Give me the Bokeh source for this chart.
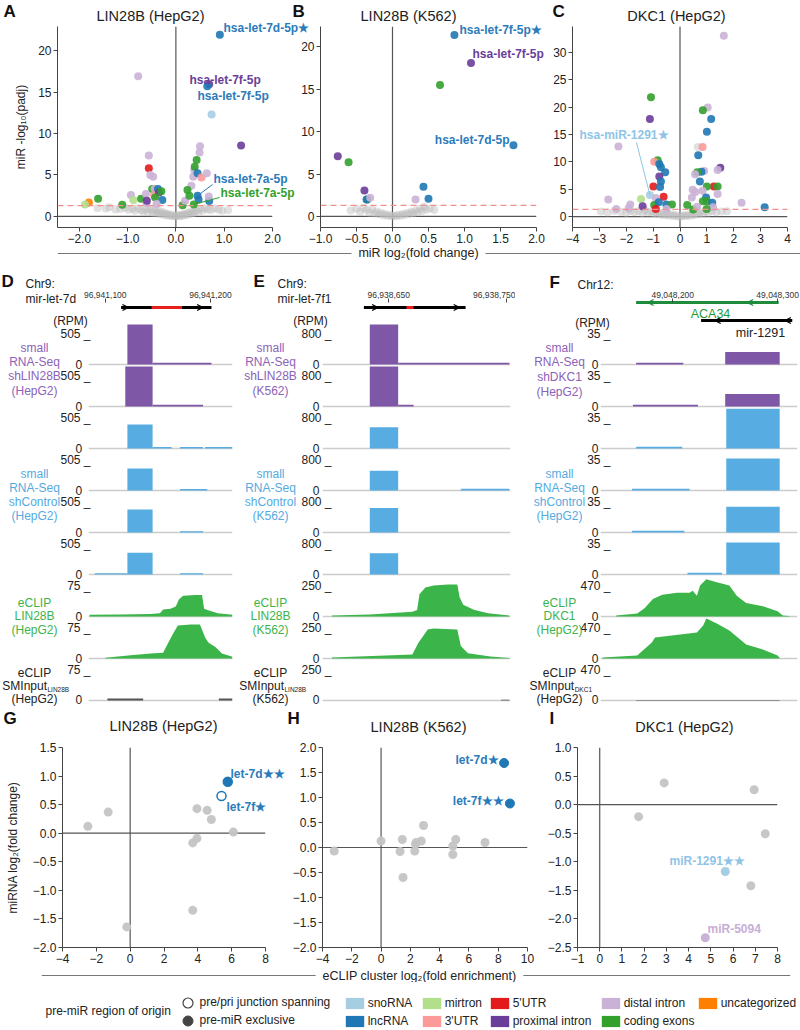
from bokeh.plotting import figure
from bokeh.models import (Range1d, Span, Label, FixedTicker, CustomJSTickFormatter,
                          NumeralTickFormatter, Legend, LegendItem, Arrow, OpenHead)
from bokeh.layouts import row, column
from bokeh.embed import file_html
from bokeh.resources import INLINE

FONT = "Liberation Sans"
NAN = float("nan")

# ------------------------------------------------------------------ DATA
CATEGORIES = ["snoRNA", "lncRNA", "mirtron", "3'UTR", "5'UTR",
              "proximal intron", "distal intron", "coding exons", "uncategorized"]
CAT_COLORS = ["#a6cee3", "#1f78b4", "#b2df8a", "#fb9a99", "#e31a1c",
              "#6a3d9a", "#cab2d6", "#33a02c", "#ff7f00"]
CMAP = dict(zip(CATEGORIES, CAT_COLORS))
PADJ_CUTOFF = 1.301

A_XTICKS = [-2.0, -1.0, 0.0, 1.0, 2.0]
A_YTICKS = [0, 5, 10, 15, 20]
A_GRAY = [(-1.62, 1.0), (-1.45, 0.95), (-1.38, 1.1), (-1.25, 0.85), (-1.15, 0.9), (-1.05, 1.05),
          (-0.98, 0.8), (-0.9, 0.95), (-0.85, 0.7), (-0.78, 1.0), (-0.72, 0.75), (-0.68, 0.6),
          (-0.62, 0.85), (-0.58, 0.5), (-0.55, 0.95), (-0.5, 0.7), (-0.47, 0.45), (-0.43, 0.8),
          (-0.4, 0.55), (-0.37, 0.35), (-0.34, 0.65), (-0.31, 0.3), (-0.28, 0.5), (-0.25, 0.2),
          (-0.22, 0.4), (-0.19, 0.15), (-0.16, 0.3), (-0.13, 0.1), (-0.1, 0.2), (-0.07, 0.05),
          (-0.04, 0.12), (-0.01, 0.02), (0.02, 0.06), (0.05, 0.15), (0.08, 0.04), (0.11, 0.22),
          (0.14, 0.1), (0.17, 0.3), (0.2, 0.18), (0.23, 0.4), (0.26, 0.25), (0.29, 0.5),
          (0.32, 0.35), (0.35, 0.6), (0.38, 0.45), (0.42, 0.75), (0.46, 0.55), (0.5, 0.9),
          (0.55, 0.7), (0.6, 1.0), (0.66, 0.85), (0.72, 0.75), (0.8, 0.95), (0.88, 0.8),
          (0.96, 0.7), (1.08, 0.75)]
A_POINTS = [(0.91, 21.9, "lncRNA"), (0.69, 15.95, "proximal intron"), (0.65, 15.7, "lncRNA"),
            (0.74, 12.3, "snoRNA"), (1.35, 8.55, "proximal intron"), (-0.78, 16.9, "distal intron"),
            (-0.56, 7.35, "distal intron"), (-0.56, 5.8, "5'UTR"), (-0.53, 5.0, "distal intron"),
            (-0.47, 4.8, "distal intron"), (-0.49, 3.3, "coding exons"), (-0.44, 3.35, "distal intron"),
            (-0.45, 2.6, "3'UTR"), (-0.37, 3.3, "lncRNA"), (-0.35, 2.9, "proximal intron"),
            (-0.30, 3.05, "coding exons"), (-0.43, 2.3, "coding exons"), (-0.28, 2.0, "lncRNA"),
            (-0.40, 1.5, "distal intron"), (-1.80, 1.69, "uncategorized"), (-1.88, 1.45, "mirtron"),
            (-1.61, 2.13, "coding exons"), (-1.11, 1.4, "coding exons"), (-0.93, 2.6, "distal intron"),
            (-0.88, 2.0, "mirtron"), (-0.72, 2.13, "coding exons"), (-0.62, 2.7, "distal intron"),
            (-0.61, 1.6, "distal intron"), (-0.60, 1.9, "proximal intron"), (0.14, 1.35, "coding exons"),
            (0.19, 1.9, "distal intron"), (0.32, 3.7, "distal intron"), (0.28, 2.5, "coding exons"),
            (0.24, 3.2, "coding exons"), (0.36, 4.8, "distal intron"), (0.38, 5.6, "distal intron"),
            (0.39, 6.0, "coding exons"), (0.43, 6.8, "coding exons"), (0.50, 8.45, "distal intron"),
            (0.49, 7.7, "distal intron"), (0.45, 5.2, "lncRNA"), (0.53, 4.7, "3'UTR"),
            (0.64, 5.2, "distal intron"), (0.45, 2.5, "lncRNA"), (0.47, 2.05, "lncRNA"),
            (0.37, 1.45, "coding exons"), (0.69, 1.85, "lncRNA"), (0.68, 2.4, "distal intron")]

B_XTICKS = [-1.0, -0.5, 0.0, 0.5, 1.0, 1.5, 2.0]
B_YTICKS = [0, 5, 10, 15, 20]
B_GRAY = [(-0.58, 0.7), (-0.5, 0.9), (-0.45, 0.55), (-0.4, 1.0), (-0.36, 0.75), (-0.32, 0.45),
          (-0.28, 0.85), (-0.25, 0.35), (-0.22, 0.6), (-0.19, 0.25), (-0.16, 0.45), (-0.13, 0.15),
          (-0.1, 0.3), (-0.07, 0.08), (-0.04, 0.18), (-0.01, 0.03), (0.02, 0.1), (0.05, 0.04),
          (0.08, 0.2), (0.11, 0.1), (0.14, 0.3), (0.17, 0.18), (0.2, 0.42), (0.23, 0.28),
          (0.26, 0.55), (0.29, 0.38), (0.32, 0.7), (0.35, 0.5), (0.38, 0.9), (0.41, 0.65),
          (0.44, 1.15), (0.47, 0.8), (0.52, 0.95), (0.58, 0.75)]
B_POINTS = [(0.86, 21.4, "lncRNA"), (1.09, 18.1, "proximal intron"), (0.66, 15.5, "coding exons"),
            (1.68, 8.4, "lncRNA"), (-0.76, 7.1, "proximal intron"), (-0.61, 6.4, "coding exons"),
            (-0.39, 3.07, "proximal intron"), (-0.35, 2.0, "coding exons"), (-0.36, 2.0, "lncRNA"),
            (-0.31, 2.2, "distal intron"), (0.43, 3.5, "lncRNA"), (0.50, 2.1, "lncRNA"),
            (0.32, 2.0, "distal intron")]

C_XTICKS = [-4, -3, -2, -1, 0, 1, 2, 3, 4]
C_YTICKS = [0, 5, 10, 15, 20, 25, 30]
C_GRAY = [(-2.95, 0.9), (-2.7, 0.75), (-2.45, 1.0), (-2.2, 0.85), (-2.0, 0.7), (-1.85, 1.05),
          (-1.7, 0.8), (-1.55, 0.95), (-1.4, 0.65), (-1.3, 1.1), (-1.2, 0.75), (-1.1, 0.9),
          (-1.0, 0.55), (-0.92, 0.8), (-0.85, 0.45), (-0.78, 0.7), (-0.7, 0.35), (-0.62, 0.6),
          (-0.55, 0.25), (-0.48, 0.5), (-0.4, 0.2), (-0.33, 0.4), (-0.25, 0.12), (-0.18, 0.3),
          (-0.1, 0.05), (0.0, 0.02), (0.08, 0.1), (0.15, 0.25), (0.22, 0.08), (0.3, 0.35),
          (0.38, 0.15), (0.45, 0.5), (0.52, 0.3), (0.6, 0.65), (0.68, 0.4), (0.75, 0.8),
          (0.85, 0.55), (0.95, 0.9), (1.05, 0.7), (1.2, 1.0), (1.35, 0.8), (1.55, 0.9),
          (1.75, 0.95), (0.66, 12.7)]
C_POINTS = [(1.63, 33.0, "distal intron"), (-1.08, 21.8, "coding exons"), (-1.12, 17.8, "proximal intron"),
            (-2.29, 12.8, "distal intron"), (-1.12, 3.95, "snoRNA"), (-2.67, 3.1, "distal intron"),
            (-2.37, 1.4, "distal intron"), (-1.85, 2.2, "distal intron"), (-1.91, 1.5, "distal intron"),
            (-1.45, 3.2, "mirtron"), (-1.39, 1.9, "proximal intron"), (-0.83, 10.3, "coding exons"),
            (-0.96, 10.0, "3'UTR"), (-0.77, 9.6, "lncRNA"), (-0.71, 9.0, "lncRNA"),
            (-0.55, 8.1, "lncRNA"), (-0.77, 7.3, "proximal intron"), (-0.71, 6.4, "lncRNA"),
            (-0.99, 5.5, "5'UTR"), (-0.74, 5.4, "lncRNA"), (-0.61, 3.6, "5'UTR"),
            (-0.9, 3.4, "distal intron"), (-0.96, 2.1, "coding exons"), (-0.79, 2.6, "lncRNA"),
            (-0.51, 2.2, "lncRNA"), (-0.3, 2.2, "coding exons"), (-0.9, 1.4, "5'UTR"),
            (-0.5, 1.4, "distal intron"), (1.03, 19.9, "distal intron"), (0.85, 19.4, "coding exons"),
            (1.16, 17.8, "lncRNA"), (1.0, 15.5, "lncRNA"), (0.84, 12.7, "3'UTR"),
            (0.68, 11.2, "lncRNA"), (1.5, 8.9, "proximal intron"), (1.4, 8.5, "distal intron"),
            (0.9, 8.3, "distal intron"), (0.8, 8.2, "lncRNA"), (0.64, 8.1, "coding exons"),
            (0.56, 7.7, "distal intron"), (0.74, 6.4, "lncRNA"), (1.26, 5.5, "5'UTR"),
            (1.0, 5.5, "coding exons"), (1.4, 5.5, "coding exons"), (0.47, 4.9, "distal intron"),
            (0.57, 4.5, "distal intron"), (0.84, 4.7, "distal intron"), (1.4, 4.1, "distal intron"),
            (0.97, 3.5, "lncRNA"), (0.44, 3.5, "distal intron"), (0.85, 2.8, "coding exons"),
            (1.0, 2.8, "coding exons"), (1.2, 2.5, "lncRNA"), (2.29, 2.5, "distal intron"),
            (3.15, 1.7, "lncRNA"), (0.27, 2.1, "coding exons"), (0.49, 1.3, "coding exons"),
            (0.64, 1.8, "distal intron"), (1.23, 1.7, "distal intron"), (0.99, 1.4, "coding exons")]

# genome-browser tracks: small RNA-seq segments (start, end, RPM); eCLIP profiles (positions, RPM)
D_RANGE = (96941084, 96941221)
D_TICKS = [96941100, 96941200]
D_GENE = (96941115, 96941201)
D_MATURE = (96941144, 96941173)
D_ARROWS = [96941122, 96941193]
D_SMALL_MAX, D_ECLIP_MAX = 505, 75
D_SMALL = [
    [(96941121, 96941145, 800), (96941145, 96941201, 30)],
    [(96941119, 96941145, 800), (96941145, 96941193, 30)],
    [(96941121, 96941145, 390), (96941145, 96941163, 25), (96941171, 96941193, 25), (96941195, 96941221, 25)],
    [(96941121, 96941145, 360), (96941171, 96941197, 25)],
    [(96941121, 96941145, 375), (96941171, 96941193, 22)],
    [(96941090, 96941121, 22), (96941121, 96941145, 355), (96941171, 96941193, 22)],
]
D_ECLIP = [
    ([96941085, 96941114, 96941143, 96941152, 96941155, 96941162, 96941167, 96941170, 96941174,
      96941186, 96941192, 96941194, 96941197, 96941207, 96941221],
     [4, 5, 6, 8, 17, 19, 24, 41, 50, 52, 52, 19, 16, 8, 4]),
    ([96941100, 96941124, 96941143, 96941155, 96941159, 96941164, 96941169, 96941181, 96941190,
      96941195, 96941198, 96941205, 96941211, 96941221],
     [2, 8, 12, 14, 34, 58, 80, 82, 82, 51, 39, 27, 12, 4]),
]
D_INPUT = [(96941102, 96941136, 5), (96941208, 96941221, 5)]

E_RANGE = (96938594, 96938753)
E_TICKS = [96938650, 96938750]
E_GENE = (96938629, 96938715)
E_MATURE = (96938665, 96938671)
E_ARROWS = [96938641, 96938710]
E_SMALL_MAX, E_ECLIP_MAX = 800, 250
E_SMALL = [
    [(96938634, 96938658, 1300), (96938658, 96938752, 45)],
    [(96938634, 96938658, 1300), (96938658, 96938671, 45)],
    [(96938634, 96938658, 551)],
    [(96938634, 96938658, 508), (96938711, 96938752, 45)],
    [(96938634, 96938658, 635)],
    [(96938634, 96938658, 551)],
]
E_ECLIP = [
    ([96938602, 96938634, 96938670, 96938674, 96938676, 96938681, 96938688, 96938700, 96938708,
      96938710, 96938713, 96938722, 96938734, 96938752],
     [8, 16, 39, 52, 180, 234, 250, 258, 258, 156, 94, 55, 26, 8]),
    ([96938602, 96938670, 96938675, 96938683, 96938688, 96938708, 96938711, 96938717, 96938736, 96938752],
     [8, 33, 125, 233, 242, 233, 100, 42, 17, 4]),
]
E_INPUT = [(96938745, 96938752, 6)]

F_RANGE = (49048131, 49048319)
F_TICKS = [49048200, 49048300]
F_ACA34 = (49048165, 49048301)
F_ACA34_ARROWS = [49048176, 49048271]
F_MIR = (49048227, 49048314)
F_MIR_ARROWS = [49048240, 49048307]
F_SMALL_MAX, F_ECLIP_MAX = 35, 470
F_SMALL = [
    [(49048165, 49048210, 2), (49048250, 49048302, 14)],
    [(49048162, 49048224, 2), (49048250, 49048302, 14)],
    [(49048165, 49048209, 2), (49048251, 49048302, 45)],
    [(49048161, 49048216, 2), (49048251, 49048302, 36)],
    [(49048161, 49048211, 2), (49048251, 49048302, 29)],
    [(49048214, 49048247, 2), (49048251, 49048302, 36)],
]
F_ECLIP = [
    ([49048146, 49048166, 49048173, 49048181, 49048190, 49048204, 49048216, 49048219, 49048223,
      49048226, 49048232, 49048242, 49048254, 49048261, 49048270, 49048286, 49048300, 49048305, 49048311],
     [16, 47, 125, 267, 330, 361, 361, 392, 314, 470, 565, 518, 470, 314, 204, 157, 78, 16, 8]),
    ([49048133, 49048166, 49048180, 49048183, 49048207, 49048223, 49048229, 49048232, 49048242,
      49048254, 49048270, 49048286, 49048300, 49048302],
     [15, 46, 243, 319, 365, 395, 502, 608, 532, 426, 213, 137, 46, 8]),
]
F_INPUT = [(49048165, 49048302, 6)]

G_XTICKS = [-4, -2, 0, 2, 4, 6, 8]
G_YTICKS = [-2.0, -1.5, -1.0, -0.5, 0.0, 0.5, 1.0, 1.5]
G_GRAY = [(-2.5, 0.12), (-1.3, 0.37), (-0.2, -1.64), (3.7, -0.17), (3.95, -0.09), (3.95, 0.43),
          (4.55, 0.40), (4.8, 0.24), (6.1, 0.02), (3.7, -1.35)]
G_HITS = [(5.77, 0.90, "let-7d\u2605\u2605", True), (5.4, 0.65, "let-7f\u2605", False)]

H_XTICKS = [-4, -2, 0, 2, 4, 6, 8, 10]
H_YTICKS = [-2.0, -1.5, -1.0, -0.5, 0.0, 0.5, 1.0, 1.5, 2.0]
H_GRAY = [(-3.2, -0.07), (0.0, 0.13), (1.3, -0.08), (1.45, 0.16), (1.5, -0.6), (2.3, -0.07),
          (2.35, 0.07), (2.4, 0.1), (2.75, 0.13), (2.9, 0.44), (4.9, 0.03), (4.9, -0.14),
          (5.1, 0.16), (7.1, 0.1)]
H_HITS = [(8.4, 1.69, "let-7d\u2605", True), (8.8, 0.88, "let-7f\u2605\u2605", True)]

I_XTICKS = [-1, 0, 1, 2, 3, 4, 5, 6, 7, 8]
I_YTICKS = [-2.5, -2.0, -1.5, -1.0, -0.5, 0.0, 0.5, 1.0]
I_GRAY = [(1.75, -0.21), (2.9, 0.38), (6.95, 0.26), (7.45, -0.51), (6.8, -1.42)]
I_HITS = [(5.65, -1.17, "miR-1291\u2605\u2605", "snoRNA"), (4.75, -2.33, "miR-5094", "distal intron")]

# ------------------------------------------------------------------ HELPERS
PURPLE, BLUE, GREEN, INPUT_GRAY = "#7e57a6", "#57ade1", "#3bb54a", "#555555"
LBL_PURPLE, LBL_BLUE, LBL_GREEN = "#8b62b8", "#55aadf", "#3cb44b"
TXT_BLUE, TXT_PURPLE, TXT_GREEN = "#2b7bba", "#6a3d9a", "#33a02c"
TOTAL_H = 1028


class Frame:
    def __init__(self, FL, FR, FT, FB, xr, yr):
        self.FL, self.FR, self.FT, self.FB, self.xr, self.yr = FL, FR, FT, FB, xr, yr

    def x(self, X):
        return self.xr[0] + (X - self.FL) / (self.FR - self.FL) * (self.xr[1] - self.xr[0])

    def y(self, Y):
        return self.yr[0] + (self.FB - Y) / (self.FB - self.FT) * (self.yr[1] - self.yr[0])


def make_fig(X0, X1, Y0, Y1, FL, FR, FT, FB, xr, yr, xloc="below", yloc="left"):
    p = figure(width=X1 - X0, height=Y1 - Y0, x_range=Range1d(*xr), y_range=Range1d(*yr),
               min_border_left=FL - X0, min_border_right=X1 - FR,
               min_border_top=FT - Y0, min_border_bottom=Y1 - FB,
               x_axis_location=xloc, y_axis_location=yloc,
               output_backend="svg", toolbar_location=None, tools="")
    for g in p.grid:
        g.visible = False
    p.outline_line_color = None
    p.background_fill_color = None
    p.border_fill_color = None
    return p, Frame(FL, FR, FT, FB, xr, yr)


# full-page transparent text layer (image pixel coordinates)
pO, fO = make_fig(0, 800, 0, TOTAL_H, 0, 800, 0, TOTAL_H, (0, 800), (0, TOTAL_H), xloc=None, yloc=None)


def add_text(X, Y, text, size=12, color="#222222", align="left", bold=False, bg=None, p=None, fr=None):
    p = p or pO
    fr = fr or fO
    lab = Label(x=fr.x(X), y=fr.y(Y), text=text, text_font=FONT, text_font_size=f"{size}px",
                text_color=color, text_align=align, text_baseline="middle",
                text_font_style="bold" if bold else "normal")
    if bg is not None:
        lab.background_fill_color = bg
    p.add_layout(lab)


def minus_fmt(dec):
    return CustomJSTickFormatter(
        code=f"return (tick < -1e-9 ? '\\u2212' : '') + Math.abs(tick).toFixed({dec});")


def style_axes(p, xticks, yticks, xdec, ydec, size="12px"):
    for ax, ticks, dec in ((p.xaxis[0], xticks, xdec), (p.yaxis[0], yticks, ydec)):
        ax.ticker = FixedTicker(ticks=ticks)
        ax.formatter = minus_fmt(dec)
        ax.axis_line_color = "#444444"
        ax.major_tick_line_color = "#444444"
        ax.major_tick_out = 4
        ax.major_tick_in = 0
        ax.minor_tick_line_color = None
        ax.major_label_text_font = FONT
        ax.major_label_text_font_size = size
        ax.major_label_text_color = "#222222"
        ax.major_label_standoff = 2
        ax.axis_label_text_font = FONT
        ax.axis_label_text_font_size = "12px"
        ax.axis_label_text_font_style = "normal"
        ax.axis_label_text_color = "#222222"


def zero_lines(p):
    p.add_layout(Span(location=0, dimension="height", line_color="#555555", line_width=1.2, level="underlay"))
    p.add_layout(Span(location=0, dimension="width", line_color="#555555", line_width=1.2, level="underlay"))


def volcano(X0, X1, FL, FR, xr, yr, xticks, yticks, xdec, gray, pts):
    p, fr = make_fig(X0, X1, 0, 246, FL, FR, 26, 227, xr, yr)
    style_axes(p, xticks, yticks, xdec, 0)
    zero_lines(p)
    p.add_layout(Span(location=PADJ_CUTOFF, dimension="width", line_color="#f28e8e",
                      line_dash="6 4", line_width=1.2))
    p.scatter([g[0] for g in gray], [g[1] for g in gray], size=8, fill_color="#bdbdbd",
              fill_alpha=0.45, line_color=None)
    p.scatter([q[0] for q in pts], [q[1] for q in pts], size=8,
              fill_color=[CMAP[q[2]] for q in pts], fill_alpha=0.9, line_color=None)
    return p, fr


def leader(p, fr, X, Y, pt, color):
    p.segment(x0=[fr.x(X)], y0=[fr.y(Y)], x1=[pt[0]], y1=[pt[1]], line_color=color, line_width=1)


# ------------------------------------------------------------------ TOP ROW
pA, fA = volcano(0, 325, 57, 272, (-2.45, 2.0), (-1.33, 22.9), A_XTICKS, A_YTICKS, 1, A_GRAY, A_POINTS)
pA.yaxis[0].axis_label = "miR -log\u2081\u2080(padj)"
pA.yaxis[0].axis_label_standoff = 7
leader(pA, fA, 212, 184, A_POINTS[43][:2], TXT_BLUE)
leader(pA, fA, 219, 197, A_POINTS[45][:2], TXT_GREEN)

pB, fB = volcano(290, 550, 320, 536, (-1.0, 2.0), (-1.3, 22.4), B_XTICKS, B_YTICKS, 1, B_GRAY, B_POINTS)
pB.margin = (0, 0, 0, -35)

pC, fC = volcano(550, 800, 572, 787, (-4.0, 4.0), (-2.0, 34.7), C_XTICKS, C_YTICKS, 0, C_GRAY, C_POINTS)
leader(pC, fC, 636, 142, C_POINTS[4][:2], "#8fc4e6")

add_text(3, 11, "A", size=17, bold=True, color="#111111")
add_text(150, 15, "LIN28B (HepG2)", size=14.5, align="center")
add_text(223, 27, "hsa-let-7d-5p\u2605", color=TXT_BLUE, bold=True)
add_text(189, 79, "hsa-let-7f-5p", color=TXT_PURPLE, bold=True)
add_text(197, 95, "hsa-let-7f-5p", color=TXT_BLUE, bold=True)
add_text(213, 178, "hsa-let-7a-5p", color=TXT_BLUE, bold=True)
add_text(220, 192, "hsa-let-7a-5p", color=TXT_GREEN, bold=True)
add_text(292, 11, "B", size=17, bold=True, color="#111111")
add_text(408, 15, "LIN28B (K562)", size=14.5, align="center")
add_text(459, 29, "hsa-let-7f-5p\u2605", color=TXT_BLUE, bold=True)
add_text(472, 53, "hsa-let-7f-5p", color=TXT_PURPLE, bold=True)
add_text(509, 139, "hsa-let-7d-5p", color=TXT_BLUE, bold=True, align="right")
add_text(552, 11, "C", size=17, bold=True, color="#111111")
add_text(676, 15, "DKC1 (HepG2)", size=14.5, align="center")
add_text(579, 134, "hsa-miR-1291\u2605", color="#8fc4e6", bold=True)

# shared x label row
pT, fT = make_fig(0, 800, 246, 260, 57, 800, 246, 260, (57, 800), (0, 14), xloc=None, yloc=None)
pT.add_layout(Span(location=7, dimension="width", line_color="#777777", line_width=1))
add_text(418, 252, "\u00a0\u00a0miR log\u2082(fold change)\u00a0\u00a0", size=12.5,
         align="center", bg="white", p=pT, fr=fT)

# ------------------------------------------------------------------ TRACKS
PITCH, MAXPX, CLIPPX = 42, 31, 40
TRACK_COLORS = [PURPLE, PURPLE, BLUE, BLUE, BLUE, BLUE]


def base(i):
    return PITCH * (8 - i)


def hgt(v, m):
    return min(v / m * MAXPX, CLIPPX)


def track_column(X0, X1, FL, FR, xr, ticks, small, smax, eclip, emax, inp, standoff, zero_label):
    p, fr = make_fig(X0, X1, 260, 706, FL, FR, 298, 702, xr, (-2, 402), xloc="above")
    ax = p.xaxis[0]
    ax.ticker = FixedTicker(ticks=ticks)
    ax.formatter = NumeralTickFormatter(format="0,0")
    ax.axis_line_color = None
    ax.major_tick_in = 4
    ax.major_tick_out = 0
    ax.major_tick_line_color = "#444444"
    ax.minor_tick_line_color = None
    ax.major_label_text_font = FONT
    ax.major_label_text_font_size = "8.5px"
    ax.major_label_text_color = "#333333"
    ax.major_label_standoff = 1
    maxes = [smax] * 6 + [emax] * 3
    yt, ov = [], {}
    for i in range(9):
        yt += [base(i), base(i) + MAXPX]
        ov[base(i)] = zero_label
        ov[base(i) + MAXPX] = f"{maxes[i]} _"
    ay = p.yaxis[0]
    ay.ticker = FixedTicker(ticks=sorted(yt))
    ay.major_label_overrides = ov
    ay.axis_line_color = None
    ay.major_tick_line_color = None
    ay.minor_tick_line_color = None
    ay.major_tick_out = 0
    ay.major_tick_in = 0
    ay.major_label_standoff = standoff
    ay.major_label_text_font = FONT
    ay.major_label_text_font_size = "12px"
    ay.major_label_text_color = "#222222"
    for i in range(9):
        p.add_layout(Span(location=base(i), dimension="width", line_color="#cccccc",
                          line_width=1.5, level="underlay"))
    for i, segs in enumerate(small):
        p.quad(left=[s[0] for s in segs], right=[s[1] for s in segs],
               bottom=[base(i)] * len(segs), top=[base(i) + hgt(s[2], smax) for s in segs],
               fill_color=TRACK_COLORS[i], line_color=None)
    for k, (xs, vs) in enumerate(eclip):
        i = 6 + k
        p.varea(x=xs, y1=[base(i)] * len(xs), y2=[base(i) + hgt(v, emax) for v in vs], fill_color=GREEN)
    p.quad(left=[s[0] for s in inp], right=[s[1] for s in inp], bottom=[base(8)] * len(inp),
           top=[base(8) + hgt(s[2], emax) for s in inp], fill_color=INPUT_GRAY, line_color=None)
    return p, fr


def gene(p, fr, span, Y, color, arrows, direction, width=3):
    y = fr.y(Y)
    p.segment(x0=[span[0]], y0=[y], x1=[span[1]], y1=[y], line_color=color, line_width=width)
    for a in arrows:
        p.add_layout(Arrow(end=OpenHead(size=6, line_color=color, line_width=1.3),
                           x_start=a - direction * 2, x_end=a, y_start=y, y_end=y, line_alpha=0))


def labels_group(Xc, Ys, lines, color):
    for Y, t in zip(Ys, lines):
        add_text(Xc, Y, t, size=12, color=color, align="center")


def sminput(Xc, Y, sub, sub_em):
    w_main = 3.724 * 12
    w_sub = sub_em * 6.5
    left = Xc - (w_main + w_sub) / 2
    add_text(left, Y, "SMInput", size=12)
    add_text(left + w_main + 0.5, Y + 4, sub, size=6.5)


# D
pD, fD = track_column(0, 238, 88, 232, D_RANGE, D_TICKS, D_SMALL, D_SMALL_MAX, D_ECLIP, D_ECLIP_MAX,
                      D_INPUT, -2, "0\u2002\u2009")
gene(pD, fD, D_GENE, 307, "black", D_ARROWS, 1)
pD.segment(x0=[D_MATURE[0]], y0=[fD.y(307)], x1=[D_MATURE[1]], y1=[fD.y(307)], line_color="#e8201c", line_width=3)
add_text(1, 281, "D", size=17, bold=True, color="#111111")
add_text(25, 283, "Chr9:")
add_text(25, 298, "mir-let-7d")
add_text(70, 320, "(RPM)", align="center")
labels_group(34, [347, 361, 375, 390], ["small", "RNA-Seq", "shLIN28B", "(HepG2)"], LBL_PURPLE)
labels_group(34, [473, 487, 501, 515], ["small", "RNA-Seq", "shControl", "(HepG2)"], LBL_BLUE)
labels_group(34, [602, 615, 629], ["eCLIP", "LIN28B", "(HepG2)"], LBL_GREEN)
labels_group(34, [672, 698], ["eCLIP", "(HepG2)"], "#222222")
sminput(35, 685, "LIN28B", 3.335)

# E
pE, fE = track_column(238, 515, 322, 510, E_RANGE, E_TICKS, E_SMALL, E_SMALL_MAX, E_ECLIP, E_ECLIP_MAX,
                      E_INPUT, -9, "0\u2003")
gene(pE, fE, E_GENE, 307, "black", E_ARROWS, 1)
pE.segment(x0=[E_MATURE[0]], y0=[fE.y(307)], x1=[E_MATURE[1]], y1=[fE.y(307)], line_color="#e8201c", line_width=3)
add_text(253, 281, "E", size=17, bold=True, color="#111111")
add_text(277, 283, "Chr9:")
add_text(277, 298, "mir-let-7f1")
add_text(310, 320, "(RPM)", align="center")
labels_group(270, [347, 361, 375, 390], ["small", "RNA-Seq", "shLIN28B", "(K562)"], LBL_PURPLE)
labels_group(270, [473, 487, 501, 515], ["small", "RNA-Seq", "shControl", "(K562)"], LBL_BLUE)
labels_group(270, [602, 615, 629], ["eCLIP", "LIN28B", "(K562)"], LBL_GREEN)
labels_group(270, [672, 698], ["eCLIP", "(K562)"], "#222222")
sminput(272, 685, "LIN28B", 3.335)

# F
pF, fF = track_column(515, 800, 600, 797, F_RANGE, F_TICKS, F_SMALL, F_SMALL_MAX, F_ECLIP, F_ECLIP_MAX,
                      F_INPUT, -10, "0\u2003")
gene(pF, fF, F_ACA34, 302, "#1e8c3a", F_ACA34_ARROWS, -1)
gene(pF, fF, F_MIR, 320, "black", F_MIR_ARROWS, -1)
add_text(710, 313, "ACA34", color="#1e9a3a", align="center", size=12.5)
add_text(760, 332, "mir-1291", align="center", size=12.5)
add_text(549, 282, "F", size=17, bold=True, color="#111111")
add_text(577, 284, "Chr12:")
add_text(592, 322, "(RPM)", align="center")
labels_group(559, [347, 361, 376, 391], ["small", "RNA-Seq", "shDKC1", "(HepG2)"], LBL_PURPLE)
labels_group(559, [473, 487, 501, 515], ["small", "RNA-Seq", "shControl", "(HepG2)"], LBL_BLUE)
labels_group(559, [602, 615, 629], ["eCLIP", "DKC1", "(HepG2)"], LBL_GREEN)
labels_group(559, [672, 698], ["eCLIP", "(HepG2)"], "#222222")
sminput(560, 685, "DKC1", 2.667)


# ------------------------------------------------------------------ BOTTOM ROW
def enrich(X0, X1, FL, FR, xr, yr, xticks, yticks, gray):
    p, fr = make_fig(X0, X1, 706, 968, FL, FR, 747, 947, xr, yr)
    style_axes(p, xticks, yticks, 0, 1)
    zero_lines(p)
    p.scatter([g[0] for g in gray], [g[1] for g in gray], size=9, fill_color="#c4c4c4",
              line_color=None, fill_alpha=0.95)
    return p, fr


pG, fG = enrich(0, 285, 62, 265, (-4, 8), (-2.0, 1.5), G_XTICKS, G_YTICKS, G_GRAY)
pG.yaxis[0].axis_label = "miRNA log\u2082(fold change)"
pG.yaxis[0].axis_label_standoff = 10
pG.scatter([h[0] for h in G_HITS], [h[1] for h in G_HITS], size=9,
           fill_color=[CMAP["lncRNA"] if h[3] else "white" for h in G_HITS],
           line_color=CMAP["lncRNA"], line_width=1.5)
add_text(3, 718, "G", size=17, bold=True, color="#111111")
add_text(163, 725, "LIN28B (HepG2)", size=14.5, align="center")
add_text(230, 773, G_HITS[0][2], color=TXT_BLUE, bold=True, size=12)
add_text(226, 806, G_HITS[1][2], color=TXT_BLUE, bold=True, size=12)

pH, fH = enrich(285, 535, 322, 527, (-4, 10), (-2.0, 2.0), H_XTICKS, H_YTICKS, H_GRAY)
pH.scatter([h[0] for h in H_HITS], [h[1] for h in H_HITS], size=9,
           fill_color=CMAP["lncRNA"], line_color=CMAP["lncRNA"])
add_text(287, 718, "H", size=17, bold=True, color="#111111")
add_text(418, 726, "LIN28B (K562)", size=14.5, align="center")
add_text(498, 759, H_HITS[0][2], color=TXT_BLUE, bold=True, size=12, align="right")
add_text(503, 800, H_HITS[1][2], color=TXT_BLUE, bold=True, size=12, align="right")

pI, fI = enrich(535, 800, 577, 777, (-1, 8), (-2.5, 1.0), I_XTICKS, I_YTICKS, I_GRAY)
pI.scatter([h[0] for h in I_HITS], [h[1] for h in I_HITS], size=9,
           fill_color=[CMAP[h[3]] for h in I_HITS], line_color=None)
add_text(549, 718, "I", size=17, bold=True, color="#111111")
add_text(684, 726, "DKC1 (HepG2)", size=14.5, align="center")
add_text(669, 860, I_HITS[0][2], color="#8fc4e6", bold=True, size=12)
add_text(707, 928, I_HITS[1][2], color="#c6aed6", bold=True, size=12)

# shared x label (bottom)
pX, fX = make_fig(0, 800, 968, 982, 41, 790, 968, 982, (41, 790), (0, 14), xloc=None, yloc=None)
pX.add_layout(Span(location=7, dimension="width", line_color="#777777", line_width=1))
add_text(419, 975, "\u00a0\u00a0eCLIP cluster log\u2082(fold enrichment)\u00a0\u00a0", size=12.5,
         align="center", bg="white", p=pX, fr=fX)

# ------------------------------------------------------------------ LEGEND
pL, fL = make_fig(0, 800, 982, TOTAL_H, 0, 800, 982, TOTAL_H, (0, 800), (0, TOTAL_H - 982),
                  xloc=None, yloc=None)
add_text(45, 1010, "pre-miR region of origin", size=12, p=pL, fr=fL)


def legend_one(label, renderer, X_left, Y_center, gw, gh, standoff):
    leg = Legend(items=[LegendItem(label=label, renderers=[renderer])],
                 location=(X_left, TOTAL_H - (Y_center + gh / 2)),
                 orientation="vertical", padding=0, margin=0, spacing=0,
                 border_line_color=None, background_fill_alpha=0,
                 glyph_width=gw, glyph_height=gh, label_height=gh, label_standoff=standoff,
                 label_text_font=FONT, label_text_font_size="12px", label_text_color="#222222")
    pL.add_layout(leg)


r_open = pL.scatter(x=[NAN], y=[NAN], size=10, fill_color="white", line_color="#444444", line_width=1.2)
r_fill = pL.scatter(x=[NAN], y=[NAN], size=10, fill_color="#444444", line_color="#444444")
legend_one("pre/pri junction spanning", r_open, 187 - 12.5, 1002, 25, 25, 0)
legend_one("pre-miR exclusive", r_fill, 187 - 12.5, 1020, 25, 25, 0)

LEG_COLS = [345, 422, 490, 601, 698]
LEG_ORDER = [("snoRNA", 0, 0), ("lncRNA", 0, 1), ("mirtron", 1, 0), ("3'UTR", 1, 1),
             ("5'UTR", 2, 0), ("proximal intron", 2, 1), ("distal intron", 3, 0),
             ("coding exons", 3, 1), ("uncategorized", 4, 0)]
for name, c, r in LEG_ORDER:
    rr = pL.quad(left=[NAN], right=[NAN], top=[NAN], bottom=[NAN], fill_color=CMAP[name], line_color=None)
    legend_one(name, rr, LEG_COLS[c] - 2.3, [1003, 1021][r], 23, 14, 2)

# ------------------------------------------------------------------ LAYOUT
# each plot sits in its own row so that the column does not align plot frames
overlay = row(pO)
overlay.margin = (-TOTAL_H, 0, 0, 0)
layout = column(row(pA, pB, pC), row(pT), row(pD, pE, pF), row(pG, pH, pI), row(pX), row(pL), overlay)
with open("out.html", "w", encoding="utf-8") as f:
    f.write(file_html(layout, INLINE, "miRNA figure"))
